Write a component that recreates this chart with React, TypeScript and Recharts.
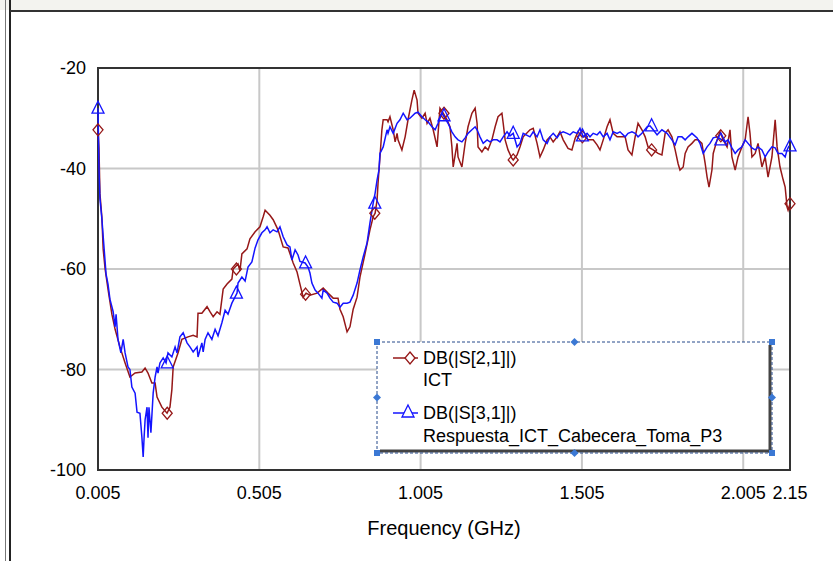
import React from 'react';
import { ComposedChart, Line, XAxis, YAxis, CartesianGrid, ReferenceArea, Legend } from 'recharts';

const ictFreq = [
  0.005, 0.008, 0.011, 0.017, 0.021, 0.027, 0.036, 0.048, 0.058, 0.073,
  0.089, 0.104, 0.12, 0.141, 0.151, 0.16, 0.172, 0.182, 0.188, 0.203,
  0.219, 0.228, 0.234, 0.238, 0.253, 0.265, 0.284, 0.3, 0.312, 0.315,
  0.327, 0.343, 0.352, 0.362, 0.374, 0.383, 0.393, 0.405, 0.42, 0.424,
  0.439, 0.445, 0.451, 0.467, 0.476, 0.492, 0.507, 0.517, 0.523, 0.538,
  0.548, 0.563, 0.579, 0.594, 0.61, 0.622, 0.631, 0.641, 0.65, 0.662,
  0.684, 0.703, 0.718, 0.734, 0.749, 0.755, 0.765, 0.777, 0.786, 0.796,
  0.808, 0.817, 0.833, 0.848, 0.858, 0.864, 0.87, 0.873, 0.876, 0.879,
  0.885, 0.889, 0.901, 0.904, 0.91, 0.92, 0.926, 0.932, 0.935, 0.947,
  0.957, 0.966, 0.978, 0.985, 0.994, 0.997, 1.009, 1.019, 1.025, 1.034,
  1.044, 1.056, 1.065, 1.075, 1.087, 1.096, 1.102, 1.106, 1.118, 1.121,
  1.133, 1.143, 1.152, 1.164, 1.174, 1.18, 1.183, 1.195, 1.205, 1.214,
  1.226, 1.236, 1.245, 1.257, 1.261, 1.267, 1.276, 1.288, 1.292, 1.304,
  1.313, 1.323, 1.344, 1.354, 1.366, 1.375, 1.385, 1.397, 1.406, 1.416,
  1.428, 1.437, 1.447, 1.462, 1.474, 1.484, 1.493, 1.505, 1.515, 1.524,
  1.54, 1.552, 1.561, 1.571, 1.583, 1.592, 1.602, 1.614, 1.623, 1.639,
  1.648, 1.66, 1.67, 1.679, 1.691, 1.701, 1.71, 1.726, 1.741, 1.753,
  1.763, 1.772, 1.784, 1.794, 1.803, 1.809, 1.819, 1.825, 1.834, 1.846,
  1.856, 1.865, 1.877, 1.887, 1.893, 1.899, 1.908, 1.912, 1.924, 1.933,
  1.943, 1.955, 1.964, 1.97, 1.98, 1.989, 2.001, 2.011, 2.02, 2.026,
  2.032, 2.042, 2.051, 2.063, 2.073, 2.082, 2.094, 2.104, 2.11, 2.119,
  2.129, 2.135, 2.141, 2.144, 2.15,
];
const ictDb = [
  -32.3, -36, -45, -49.7, -56, -60, -64, -69, -72, -75.5,
  -78.7, -81.5, -80.7, -80.5, -79.7, -80.7, -82.7, -82.7, -85.5, -87.5,
  -88.7, -87.5, -84, -79.5, -76.7, -74, -73.5, -73.2, -73.5, -68.8,
  -68.8, -67.5, -68.5, -69.5, -68.5, -69, -64, -63, -62, -60,
  -59, -60.4, -57, -56, -54, -52.6, -51.6, -49.6, -48.3, -49.3,
  -50.2, -52.2, -55.6, -55.8, -58.8, -60.6, -63, -65.6, -64.8, -65.2,
  -64.8, -63.8, -64.8, -65.8, -65.8, -68, -69.5, -72.5, -71.5, -68,
  -65.6, -61.6, -56.9, -52.2, -49.6, -48.9, -46.3, -43, -40.3, -37.7,
  -32.3, -30.3, -30.3, -30.7, -29.7, -32.3, -34.7, -33, -34.3, -36.3,
  -33.7, -30.3, -26.4, -24.4, -26.4, -29, -30, -29, -31, -30,
  -32.3, -35.7, -28, -29, -30.3, -31.7, -35.7, -39.7, -35, -37.7,
  -39.7, -35, -31.7, -29, -28, -31, -35.7, -36.7, -35.7, -36.3,
  -34.3, -31.7, -29.7, -29, -31, -34.3, -36.3, -38, -38.3, -37.3,
  -35.7, -33.7, -32.3, -32, -35, -37.7, -36.3, -34.3, -33.7, -34.7,
  -33.7, -32.7, -34.3, -36, -36.3, -34, -32.7, -33.7, -33.7, -34.3,
  -34.3, -35.3, -36.3, -34.3, -31.7, -30.3, -33, -33.7, -33.7, -33.7,
  -36.3, -37.3, -33.7, -31, -32.3, -33.7, -35.7, -36.3, -37, -37.3,
  -33, -32.3, -33.7, -36.3, -39, -40.3, -39.7, -37, -35.7, -35,
  -34.3, -34.3, -35, -39, -41.7, -43.7, -40.3, -37, -34.3, -32.7,
  -34.3, -35.7, -32.3, -37.7, -40.3, -37.7, -35.7, -34.3, -29.7, -33,
  -37.7, -37, -35, -39.7, -37.7, -41.7, -37.7, -30.3, -35.7, -39.7,
  -42.3, -43.7, -47.7, -48.3, -47,
];

const p3Freq = [
  0.005, 0.008, 0.011, 0.017, 0.024, 0.03, 0.036, 0.042, 0.052, 0.058,
  0.061, 0.067, 0.076, 0.083, 0.089, 0.098, 0.104, 0.11, 0.12, 0.126,
  0.135, 0.141, 0.145, 0.148, 0.151, 0.157, 0.16, 0.163, 0.169, 0.176,
  0.182, 0.188, 0.191, 0.197, 0.207, 0.216, 0.222, 0.234, 0.244, 0.25,
  0.259, 0.269, 0.281, 0.29, 0.3, 0.312, 0.315, 0.327, 0.331, 0.337,
  0.346, 0.358, 0.368, 0.377, 0.389, 0.399, 0.408, 0.42, 0.436, 0.439,
  0.451, 0.461, 0.47, 0.482, 0.492, 0.501, 0.513, 0.523, 0.529, 0.538,
  0.548, 0.56, 0.569, 0.579, 0.591, 0.6, 0.606, 0.616, 0.625, 0.631,
  0.647, 0.656, 0.662, 0.668, 0.678, 0.687, 0.699, 0.703, 0.715, 0.724,
  0.734, 0.746, 0.755, 0.765, 0.777, 0.786, 0.796, 0.808, 0.817, 0.827,
  0.839, 0.848, 0.858, 0.864, 0.87, 0.876, 0.879, 0.889, 0.901, 0.904,
  0.91, 0.92, 0.932, 0.941, 0.951, 0.963, 0.972, 0.988, 0.997, 1.009,
  1.019, 1.028, 1.04, 1.05, 1.059, 1.071, 1.081, 1.09, 1.102, 1.112,
  1.121, 1.133, 1.143, 1.152, 1.164, 1.174, 1.18, 1.189, 1.199, 1.211,
  1.22, 1.23, 1.242, 1.251, 1.261, 1.273, 1.282, 1.292, 1.304, 1.313,
  1.323, 1.344, 1.354, 1.366, 1.375, 1.385, 1.397, 1.406, 1.416, 1.428,
  1.437, 1.447, 1.459, 1.468, 1.478, 1.49, 1.499, 1.509, 1.521, 1.53,
  1.54, 1.552, 1.561, 1.571, 1.583, 1.592, 1.602, 1.614, 1.623, 1.639,
  1.648, 1.66, 1.67, 1.679, 1.691, 1.707, 1.716, 1.726, 1.738, 1.753,
  1.769, 1.784, 1.794, 1.803, 1.815, 1.825, 1.834, 1.846, 1.862, 1.871,
  1.881, 1.893, 1.902, 1.912, 1.924, 1.939, 1.949, 1.958, 1.97, 1.98,
  1.989, 2.001, 2.011, 2.02, 2.032, 2.042, 2.051, 2.063, 2.073, 2.082,
  2.094, 2.104, 2.113, 2.125, 2.135, 2.141, 2.147,
];
const p3Db = [
  -28, -40, -46, -50, -56, -61, -63, -66, -68.5, -71.5,
  -69, -74, -76.7, -74, -76.7, -79.5, -80, -83.5, -84.7, -88.5,
  -88.7, -93.4, -97.4, -93.4, -90, -87.5, -93.6, -87.5, -92.6, -84.7,
  -81.5, -79.5, -80.7, -78.7, -77.7, -78.7, -76.7, -77.5, -75.5, -76.7,
  -73.5, -72.7, -74.7, -75.5, -76.5, -75.5, -77.5, -74.7, -76.5, -74,
  -72.7, -74, -72, -73.3, -70.7, -68.2, -69, -66.8, -64.8, -62.8,
  -61.6, -62.4, -59.6, -58.6, -55.8, -54.2, -52.8, -52.2, -51.6, -52.8,
  -52.2, -52.6, -51.6, -53.6, -55.2, -55.6, -58.2, -56.2, -57.2, -58.5,
  -58.8, -59.6, -60.8, -62.8, -64.2, -64.8, -65.8, -64.2, -64.8, -65.8,
  -66.6, -66.8, -67.6, -66.8, -66.8, -66.6, -65.2, -62.8, -60.2, -57.6,
  -54.8, -50.8, -46.9, -44.9, -42.3, -40.3, -37, -35.7, -32.3, -33,
  -31.7, -33, -31, -30.3, -29, -30.3, -30, -29, -28.8, -29.7,
  -30.3, -30.7, -31.7, -32.3, -31, -29, -30, -31, -32.7, -33.7,
  -34.3, -34.7, -33.9, -33, -32.3, -31.7, -32.3, -33.7, -35, -34.3,
  -34.7, -34.3, -34.3, -34.7, -33.7, -32.7, -33.5, -33, -35.7, -35,
  -33, -33.7, -32.7, -33.7, -32.3, -34.3, -35, -33.7, -33, -33.9,
  -33, -32.7, -33, -33.3, -32.7, -33, -32, -33.7, -33, -33.7,
  -33, -33.3, -32.7, -33.7, -33, -34.3, -32.7, -33, -32.7, -33.7,
  -33, -32.7, -33, -33.7, -33, -31.7, -31.5, -32.3, -33.3, -32.3,
  -33, -34.3, -35.3, -33.7, -33.7, -34.3, -33.7, -33, -33.9, -35,
  -37, -35.7, -35, -33.9, -33.7, -34.3, -34.7, -34.3, -35.9, -37,
  -36.3, -35.7, -34.3, -35, -35.9, -36.3, -35.7, -36.3, -37.7, -36.7,
  -35.7, -35.9, -37, -37, -37.7, -36.3, -35.5,
];

const markerFreq = [0.005, 0.2195, 0.434, 0.6485, 0.863, 1.0775, 1.292, 1.5065, 1.721, 1.9355, 2.15];
const ictMarkerDb = [-32.3, -88.7, -60, -65, -48.9, -29, -38.3, -33.7, -36.3, -33.5, -47];
const p3MarkerDb = [-28, -78.7, -64.8, -58.8, -46.9, -29.5, -33, -33.5, -31.5, -34.3, -35.5];

const xTicks = [0.005, 0.505, 1.005, 1.505, 2.005, 2.15];
const yTicks = [-100, -80, -60, -40, -20];
const traceNames = ['DB(|S[2,1]|)', 'DB(|S[3,1]|)'];
const traceSources = ['ICT', 'Respuesta_ICT_Cabecera_Toma_P3'];
const xTitle = 'Frequency (GHz)';

const RED = '#961818';
const BLUE = '#1414ff';
const FONT = '"Liberation Sans", Arial, sans-serif';

const zip = (f: number[], v: number[]) => f.map((x, i) => ({ f: x, v: v[i] }));
const ictData = zip(ictFreq, ictDb);
const p3Data = zip(p3Freq, p3Db);
const ictMarkers = zip(markerFreq, ictMarkerDb);
const p3Markers = zip(markerFreq, p3MarkerDb);

const diamondPath = (cx: number, cy: number) =>
  `M${cx},${cy - 6}L${cx + 5},${cy}L${cx},${cy + 6}L${cx - 5},${cy}Z`;
const trianglePath = (cx: number, cy: number) =>
  `M${cx},${cy - 7}L${cx + 6},${cy + 5}L${cx - 6},${cy + 5}Z`;

const DiamondDot = (props: any) => {
  const { cx, cy, index } = props;
  if (cx == null || cy == null) return <g key={`dd${index}`} />;
  return <path key={`dd${index}`} d={diamondPath(cx, cy)} fill="none" stroke={RED} strokeWidth={1.3} />;
};
const TriangleDot = (props: any) => {
  const { cx, cy, index } = props;
  if (cx == null || cy == null) return <g key={`td${index}`} />;
  return <path key={`td${index}`} d={trianglePath(cx, cy)} fill="none" stroke={BLUE} strokeWidth={1.3} />;
};

const Handle = ({ x, y, kind }: { x: number; y: number; kind: 'sq' | 'di' }) =>
  kind === 'sq' ? (
    <rect x={x - 3} y={y - 3} width={6} height={6} fill="#3b78d4" />
  ) : (
    <path d={`M${x},${y - 4}L${x + 4},${y}L${x},${y + 4}L${x - 4},${y}Z`} fill="#3b78d4" />
  );

const LegendBox = () => {
  // local coordinates: origin at page (372, 337)
  const L = 5, T = 5, R = 400, B = 116;
  const mx = (L + R) / 2, my = (T + B) / 2;
  return (
    <svg width={406} height={122} style={{ display: 'block', overflow: 'visible' }}>
      <rect x={L} y={T} width={R - L} height={B - T} fill="#ffffff" />
      <line x1={R - 2} y1={T + 3} x2={R - 2} y2={B} stroke="#444" strokeWidth={3} />
      <line x1={L + 3} y1={B - 2} x2={R} y2={B - 2} stroke="#444" strokeWidth={3} />
      <rect x={L} y={T} width={R - L} height={B - T} fill="none" stroke="#24488a" strokeWidth={1} strokeDasharray="3 2" />
      <Handle x={L} y={T} kind="sq" />
      <Handle x={R} y={T} kind="sq" />
      <Handle x={L} y={B} kind="sq" />
      <Handle x={R} y={B} kind="sq" />
      <Handle x={mx} y={T} kind="di" />
      <Handle x={mx} y={B} kind="di" />
      <Handle x={L} y={my} kind="di" />
      <Handle x={R} y={my} kind="di" />
      <line x1={21} y1={21} x2={46} y2={21} stroke={RED} strokeWidth={1.5} />
      <path d={diamondPath(38, 21)} fill="#fff" stroke={RED} strokeWidth={1.3} />
      <text x={51} y={21} fontFamily={FONT} fontSize={18} fill="#000" dominantBaseline="central">{traceNames[0]}</text>
      <text x={51} y={43} fontFamily={FONT} fontSize={18} fill="#000" dominantBaseline="central">{traceSources[0]}</text>
      <line x1={21} y1={76} x2={46} y2={76} stroke={BLUE} strokeWidth={1.5} />
      <path d={trianglePath(36, 75)} fill="#fff" stroke={BLUE} strokeWidth={1.3} />
      <text x={51} y={76} fontFamily={FONT} fontSize={18} fill="#000" dominantBaseline="central">{traceNames[1]}</text>
      <text x={51} y={99} fontFamily={FONT} fontSize={18} fill="#000" dominantBaseline="central">{traceSources[1]}</text>
    </svg>
  );
};

export default function App() {
  const tickStyle = { fill: '#000', fontSize: 18, fontFamily: FONT };
  return (
    <div style={{ position: 'absolute', left: 0, top: 0, width: 833, height: 561, background: '#fff', overflow: 'hidden' }}>
      <div style={{ position: 'absolute', left: 0, top: 0, width: 833, height: 10, background: '#f3f3ef' }} />
      <div style={{ position: 'absolute', left: 5, top: 0, width: 1, height: 561, background: '#777' }} />
      <div style={{ position: 'absolute', left: 9, top: 0, width: 2, height: 561, background: '#222' }} />
      <div style={{ position: 'absolute', left: 10, top: 10, width: 823, height: 2, background: '#333' }} />
      <div style={{ position: 'absolute', left: 0, top: 0 }}>
        <ComposedChart width={833} height={561} margin={{ top: 68, right: 43, bottom: 21, left: 38 }}>
          <CartesianGrid stroke="#c8c8c8" strokeWidth={2} />
          <XAxis
            type="number"
            dataKey="f"
            domain={[0.005, 2.15]}
            ticks={xTicks}
            interval={0}
            axisLine={false}
            tickLine={false}
            height={70}
            tickMargin={10}
            tick={tickStyle}
            label={{ value: xTitle, position: 'insideBottom', offset: 5, fill: '#000', fontSize: 20, fontFamily: FONT }}
          />
          <YAxis
            type="number"
            dataKey="v"
            domain={[-100, -20]}
            ticks={yTicks}
            interval={0}
            axisLine={false}
            tickLine={false}
            width={60}
            tickMargin={6}
            tick={tickStyle}
          />
          <ReferenceArea x1={0.005} x2={2.15} y1={-100} y2={-20} fill="none" stroke="#333" strokeWidth={2} />
          <Line data={ictData} dataKey="v" stroke={RED} strokeWidth={1.5} dot={false} activeDot={false} isAnimationActive={false} />
          <Line data={p3Data} dataKey="v" stroke={BLUE} strokeWidth={1.5} dot={false} activeDot={false} isAnimationActive={false} />
          <Line data={ictMarkers} dataKey="v" stroke="none" dot={DiamondDot} activeDot={false} isAnimationActive={false} />
          <Line data={p3Markers} dataKey="v" stroke="none" dot={TriangleDot} activeDot={false} isAnimationActive={false} />
          <Legend
            layout="horizontal"
            verticalAlign="middle"
            align="center"
            wrapperStyle={{ position: 'absolute', left: 372, top: 337, width: 406, height: 122 }}
            content={() => <LegendBox />}
          />
        </ComposedChart>
      </div>
    </div>
  );
}
